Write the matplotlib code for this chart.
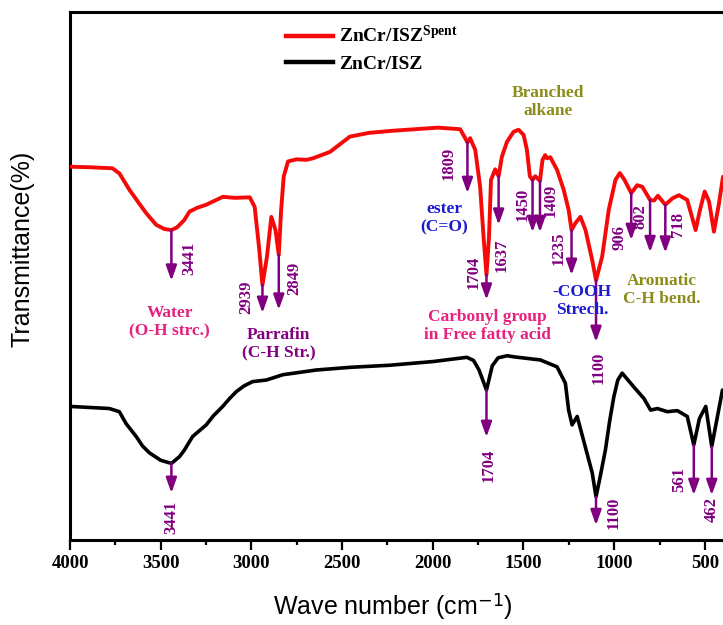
import matplotlib
matplotlib.use("Agg")
import matplotlib.pyplot as plt
from matplotlib.ticker import MultipleLocator
from matplotlib.lines import Line2D
import numpy as np

plt.rcParams["mathtext.fontset"] = "custom"
plt.rcParams["mathtext.rm"] = "Liberation Serif:bold"
plt.rcParams["mathtext.it"] = "Liberation Serif:bold:italic"
plt.rcParams["mathtext.bf"] = "Liberation Serif:bold"

SERIF = "Liberation Serif"
SANS = "Liberation Sans"

# ---- spectra (wave number in cm-1, transmittance in arbitrary %) ----
spent_wn = [4000, 3893, 3766, 3727, 3672, 3620, 3580, 3525, 3480, 3441, 3410, 3370,
            3341, 3300, 3249, 3200, 3157, 3092, 3009, 2982, 2958, 2939, 2914, 2890,
            2867, 2849, 2836, 2822, 2798, 2751, 2696, 2660, 2567, 2457, 2353, 2225,
            2098, 1971, 1849, 1831, 1809, 1794, 1766, 1739, 1720, 1704, 1690, 1679,
            1656, 1637, 1619, 1591, 1555, 1527, 1499, 1481, 1465, 1450, 1435, 1409,
            1395, 1380, 1370, 1352, 1315, 1278, 1251, 1235, 1214, 1186, 1158, 1121,
            1100, 1066, 1030, 993, 969, 943, 906, 873, 845, 802, 780, 759, 718, 679,
            643, 597, 551, 527, 501, 477, 450, 422, 400]
spent_T = [70.7, 70.6, 70.4, 69.4, 66.3, 63.8, 61.9, 59.7, 58.9, 58.7, 59.2, 60.6,
           62.2, 62.9, 63.5, 64.3, 65.0, 64.8, 64.9, 63.1, 55.5, 48.3, 53.7, 61.2,
           58.7, 54.0, 62.5, 68.8, 71.7, 72.1, 72.0, 72.3, 73.5, 76.4, 77.1, 77.5,
           77.8, 78.1, 77.8, 76.7, 75.3, 76.1, 73.9, 66.9, 57.4, 50.2, 57.4, 68.2,
           70.2, 68.9, 72.6, 75.4, 77.3, 77.7, 76.7, 73.9, 68.9, 68.2, 68.9, 68.0,
           72.0, 72.9, 72.3, 72.5, 70.1, 66.3, 62.5, 58.7, 60.0, 61.2, 58.7, 53.0,
           49.2, 53.7, 62.5, 68.2, 69.5, 68.2, 65.7, 67.2, 66.9, 64.4, 64.3, 65.2,
           63.5, 64.7, 65.3, 64.4, 58.7, 62.5, 66.0, 64.1, 58.4, 63.8, 68.8]

fresh_wn = [4000, 3783, 3728, 3690, 3635, 3600, 3562, 3500, 3441, 3396, 3370, 3324,
            3290, 3249, 3210, 3158, 3120, 3083, 3040, 2993, 2917, 2827, 2641, 2457,
            2236, 1998, 1812, 1775, 1745, 1704, 1672, 1640, 1590, 1555, 1407, 1315,
            1269, 1251, 1232, 1204, 1169, 1121, 1100, 1080, 1048, 1025, 1002, 980,
            956, 892, 836, 799, 762, 707, 652, 597, 561, 530, 495, 462, 403]
fresh_T = [25.3, 24.9, 24.3, 22.0, 19.6, 17.8, 16.5, 15.1, 14.5, 15.8, 17.0, 19.6,
           20.6, 21.8, 23.5, 25.3, 26.8, 28.1, 29.2, 30.0, 30.3, 31.3, 32.2, 32.7,
           33.1, 33.8, 34.6, 34.0, 32.2, 28.4, 33.0, 34.5, 34.9, 34.7, 34.1, 32.8,
           29.7, 24.6, 21.8, 23.4, 18.9, 12.7, 8.2, 11.5, 17.1, 22.5, 27.1, 30.3,
           31.6, 29.0, 26.8, 24.6, 24.9, 24.3, 24.5, 23.4, 18.0, 23.0, 25.3, 17.7,
           28.4]

# ---- band assignments marked with arrows ----
spent_peaks = [3441, 2939, 2849, 1809, 1704, 1637, 1450, 1409, 1235, 1100, 906, 802, 718]
fresh_peaks = [3441, 1704, 1100, 561, 462]

# arrow tips and number-label placement (x offset in px, height)
spent_tips = [49.1, 43.0, 43.6, 65.7, 45.5, 59.7, 58.3, 58.3, 50.2, 37.5, 56.8, 54.5, 54.4]
spent_lbl = [(18, 53.4), (-16, 46.0), (15, 49.6), (-19, 71.4), (-13, 50.6), (3, 54.0),
             (-10, 63.5), (11, 64.4), (-13, 55.3), (3, 32.6), (-12, 57.2), (-10, 61.2),
             (13, 59.7)]
fresh_tips = [8.9, 19.5, 2.8, 8.5, 8.5]
fresh_lbl = [(0, 4.2), (2, 14.2), (18, 5.1), (-15, 11.4), (0, 5.7)]

PURPLE = "#800080"
PINK = "#E8207E"
BLUE = "#1A1AD2"
OLIVE = "#8C8C1A"

# group descriptions: text, wave number, height, colour
groups = [
    ("Water\n(O-H strc.)", 3451, 41.3, PINK),
    ("Parrafin\n(C-H Str.)", 2849, 37.1, PURPLE),
    ("Carbonyl group\nin Free fatty acid", 1700, 40.5, PINK),
    ("-COOH\nStrech.", 1175, 45.3, BLUE),
    ("ester\n(C=O)", 1937, 61.0, BLUE),
    ("Branched\nalkane", 1363, 83.0, OLIVE),
    ("Aromatic\nC-H bend.", 739, 47.3, OLIVE),
]

fig = plt.figure(figsize=(7.23, 6.25), dpi=100)
ax = fig.add_axes([70 / 723, 85 / 625, 653 / 723, 528 / 625])

ax.plot(spent_wn, spent_T, color="#F50A0A", lw=2.8, solid_joinstyle="round",
        solid_capstyle="round", zorder=3)
ax.plot(fresh_wn, fresh_T, color="black", lw=2.6, solid_joinstyle="round",
        solid_capstyle="round", zorder=3)

ax.set_xlim(4000, 400)
ax.set_ylim(0, 100)


def mark_peaks(wn, T, peaks, tips, labels):
    wn_a = np.asarray(wn, float)[::-1]
    T_a = np.asarray(T, float)[::-1]
    for p, tip, (dx, ly) in zip(peaks, tips, labels):
        start = np.interp(p, wn_a, T_a)
        ax.annotate("", xy=(p, tip), xytext=(p, start),
                    arrowprops=dict(arrowstyle="-|>,head_length=0.9,head_width=0.32",
                                    color=PURPLE, lw=1.8, shrinkA=0, shrinkB=0),
                    zorder=4)
        ax.annotate(str(p), xy=(p, ly), xytext=(dx * 0.72, 0), textcoords="offset points",
                    rotation=90, ha="center", va="center", color=PURPLE,
                    fontsize=12, fontweight="bold", family=SERIF, zorder=5)


mark_peaks(spent_wn, spent_T, spent_peaks, spent_tips, spent_lbl)
mark_peaks(fresh_wn, fresh_T, fresh_peaks, fresh_tips, fresh_lbl)

for txt, x, y, c in groups:
    ax.text(x, y, txt, ha="center", va="center", multialignment="center",
            color=c, fontsize=12.5, fontweight="bold", family=SERIF,
            linespacing=1.2, zorder=5)

# axes styling
ax.xaxis.set_major_locator(MultipleLocator(500))
ax.xaxis.set_minor_locator(MultipleLocator(250))
ax.set_yticks([])
ax.tick_params(axis="x", which="major", direction="out", length=7, width=1.6, pad=4,
               labelsize=13.5)
ax.tick_params(axis="x", which="minor", direction="out", length=3.5, width=1.6)
for lbl in ax.get_xticklabels():
    lbl.set_family(SERIF)
    lbl.set_fontweight("bold")
for side in ("left", "top", "bottom"):
    ax.spines[side].set_linewidth(2.2)
ax.spines["right"].set_visible(False)

ax.set_xlabel("Wave number (cm$^{\\mathsf{-1}}$)", family=SANS, fontsize=18)
ax.xaxis.set_label_coords(0.495, -0.127)
ax.xaxis.label.set_va("center")
ax.set_ylabel("Transmittance(%)", family=SANS, fontsize=18)
ax.yaxis.set_label_coords(-0.072, 0.551)
ax.yaxis.label.set_va("center")

handles = [Line2D([], [], color="#F50A0A", lw=3.2),
           Line2D([], [], color="black", lw=3.2)]
leg = ax.legend(handles, ["ZnCr/ISZ$^{\\mathrm{Spent}}$", "ZnCr/ISZ"],
                loc="upper left", bbox_to_anchor=(0.331, 0.975), frameon=False,
                borderpad=0, borderaxespad=0, handlelength=2.4, handletextpad=0.3,
                labelspacing=0.45, prop=dict(family=SERIF, weight="bold", size=14))

fig.savefig("out.png", dpi=100)
